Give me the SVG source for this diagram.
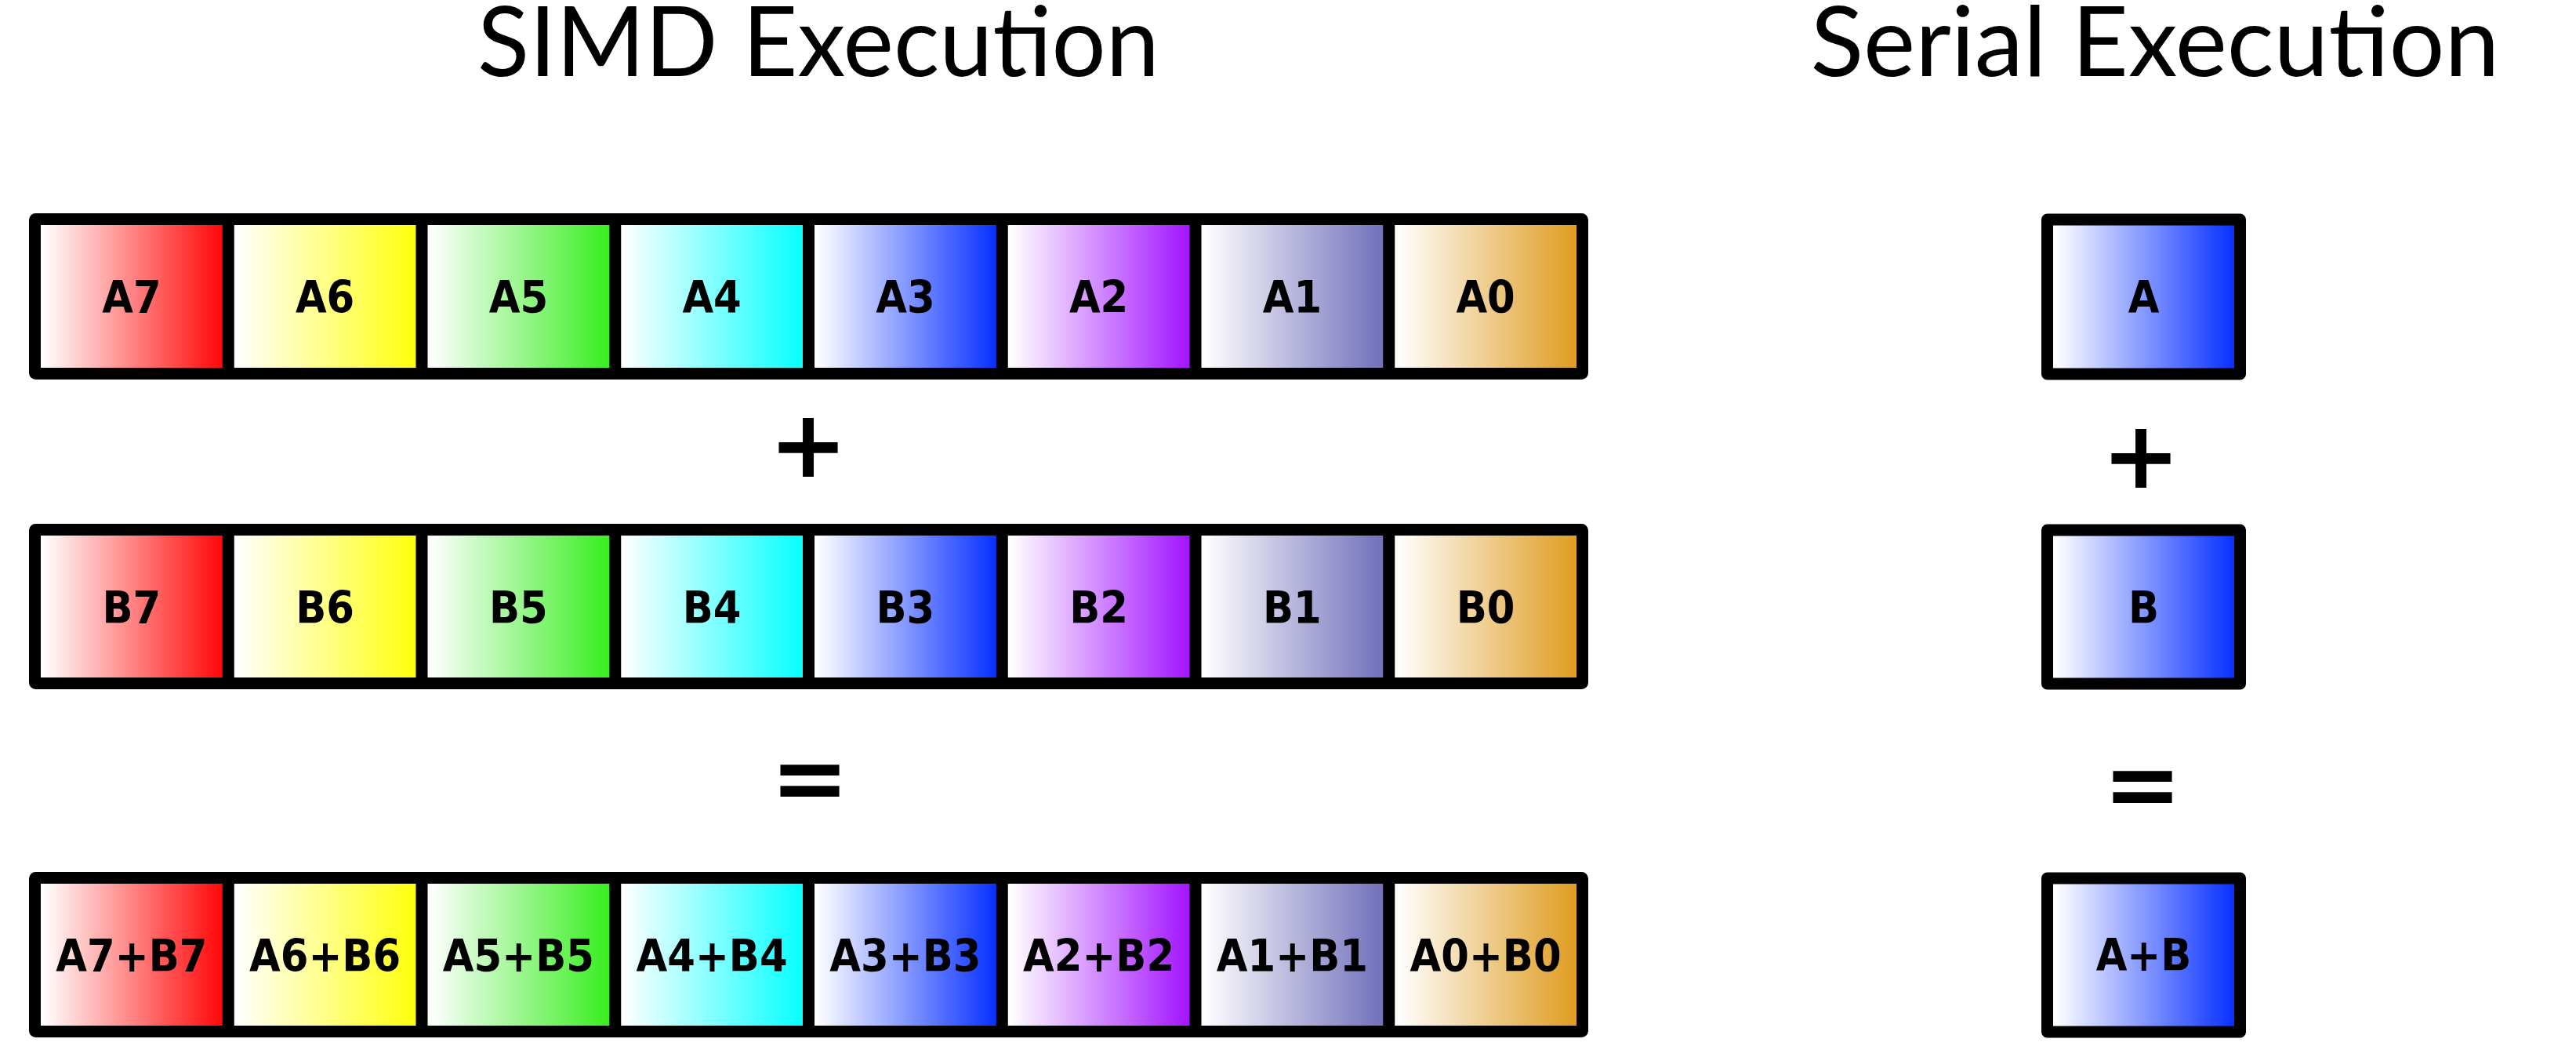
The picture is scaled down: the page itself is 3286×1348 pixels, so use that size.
<svg xmlns="http://www.w3.org/2000/svg" width="3286" height="1348" viewBox="0 0 3286 1348">
<defs>
<linearGradient id="g7" x1="0" y1="0" x2="1" y2="0"><stop offset="0.04" stop-color="#ffffff"/><stop offset="0.96" stop-color="#ff0a0a"/></linearGradient>
<linearGradient id="g6" x1="0" y1="0" x2="1" y2="0"><stop offset="0.04" stop-color="#ffffff"/><stop offset="0.96" stop-color="#ffff10"/></linearGradient>
<linearGradient id="g5" x1="0" y1="0" x2="1" y2="0"><stop offset="0.04" stop-color="#ffffff"/><stop offset="0.96" stop-color="#3aee22"/></linearGradient>
<linearGradient id="g4" x1="0" y1="0" x2="1" y2="0"><stop offset="0.04" stop-color="#ffffff"/><stop offset="0.96" stop-color="#0affff"/></linearGradient>
<linearGradient id="g3" x1="0" y1="0" x2="1" y2="0"><stop offset="0.04" stop-color="#ffffff"/><stop offset="0.96" stop-color="#0a32ff"/></linearGradient>
<linearGradient id="g2" x1="0" y1="0" x2="1" y2="0"><stop offset="0.04" stop-color="#ffffff"/><stop offset="0.96" stop-color="#a416ff"/></linearGradient>
<linearGradient id="g1" x1="0" y1="0" x2="1" y2="0"><stop offset="0.04" stop-color="#ffffff"/><stop offset="0.96" stop-color="#7271bb"/></linearGradient>
<linearGradient id="g0" x1="0" y1="0" x2="1" y2="0"><stop offset="0.04" stop-color="#ffffff"/><stop offset="0.96" stop-color="#df9d22"/></linearGradient>
</defs>
<style>
.title{font-family:Lato,Carlito,"Liberation Sans",sans-serif;font-size:124px;fill:#000;text-anchor:middle}
.lbl{font-family:"DejaVu Sans Condensed","DejaVu Sans",sans-serif;font-stretch:condensed;font-weight:bold;font-size:57px;fill:#000;text-anchor:middle}
.op{font-family:"DejaVu Sans","Liberation Sans",sans-serif;font-weight:bold;font-size:120px;fill:#000;text-anchor:middle}
.frame{fill:none;stroke:#000;stroke-width:15;stroke-linejoin:round}
.div{stroke:#000;stroke-width:15}
</style>
<rect width="3286" height="1348" fill="#fff"/>
<text class="title" x="1044" y="97" textLength="870" lengthAdjust="spacingAndGlyphs">SIMD Execution</text>
<text class="title" x="2749" y="97" textLength="879" lengthAdjust="spacingAndGlyphs">Serial Execution</text>

<g id="rowA">
<g id="A7"><rect x="44.5" y="279.5" width="246.75" height="197" fill="url(#g7)"/><text class="lbl" x="167.9" y="399">A7</text></g>
<g id="A6"><rect x="291.25" y="279.5" width="246.75" height="197" fill="url(#g6)"/><text class="lbl" x="414.6" y="399">A6</text></g>
<g id="A5"><rect x="538" y="279.5" width="246.75" height="197" fill="url(#g5)"/><text class="lbl" x="661.4" y="399">A5</text></g>
<g id="A4"><rect x="784.75" y="279.5" width="246.75" height="197" fill="url(#g4)"/><text class="lbl" x="908.1" y="399">A4</text></g>
<g id="A3"><rect x="1031.5" y="279.5" width="246.75" height="197" fill="url(#g3)"/><text class="lbl" x="1154.9" y="399">A3</text></g>
<g id="A2"><rect x="1278.25" y="279.5" width="246.75" height="197" fill="url(#g2)"/><text class="lbl" x="1401.6" y="399">A2</text></g>
<g id="A1"><rect x="1525" y="279.5" width="246.75" height="197" fill="url(#g1)"/><text class="lbl" x="1648.4" y="399">A1</text></g>
<g id="A0"><rect x="1771.75" y="279.5" width="246.75" height="197" fill="url(#g0)"/><text class="lbl" x="1895.1" y="399">A0</text></g>
<g id="frameA"><rect class="frame" x="44.5" y="279.5" width="1974" height="197" rx="1"/>
<path class="div" d="M291.25 279.5V476.5M538 279.5V476.5M784.75 279.5V476.5M1031.5 279.5V476.5M1278.25 279.5V476.5M1525 279.5V476.5M1771.75 279.5V476.5"/></g>
</g>

<g id="rowB">
<g id="B7"><rect x="44.5" y="675.5" width="246.75" height="196" fill="url(#g7)"/><text class="lbl" x="167.9" y="795">B7</text></g>
<g id="B6"><rect x="291.25" y="675.5" width="246.75" height="196" fill="url(#g6)"/><text class="lbl" x="414.6" y="795">B6</text></g>
<g id="B5"><rect x="538" y="675.5" width="246.75" height="196" fill="url(#g5)"/><text class="lbl" x="661.4" y="795">B5</text></g>
<g id="B4"><rect x="784.75" y="675.5" width="246.75" height="196" fill="url(#g4)"/><text class="lbl" x="908.1" y="795">B4</text></g>
<g id="B3"><rect x="1031.5" y="675.5" width="246.75" height="196" fill="url(#g3)"/><text class="lbl" x="1154.9" y="795">B3</text></g>
<g id="B2"><rect x="1278.25" y="675.5" width="246.75" height="196" fill="url(#g2)"/><text class="lbl" x="1401.6" y="795">B2</text></g>
<g id="B1"><rect x="1525" y="675.5" width="246.75" height="196" fill="url(#g1)"/><text class="lbl" x="1648.4" y="795">B1</text></g>
<g id="B0"><rect x="1771.75" y="675.5" width="246.75" height="196" fill="url(#g0)"/><text class="lbl" x="1895.1" y="795">B0</text></g>
<g id="frameB"><rect class="frame" x="44.5" y="675.5" width="1974" height="196" rx="1"/>
<path class="div" d="M291.25 675.5V871.5M538 675.5V871.5M784.75 675.5V871.5M1031.5 675.5V871.5M1278.25 675.5V871.5M1525 675.5V871.5M1771.75 675.5V871.5"/></g>
</g>

<g id="rowC">
<g id="S7"><rect x="44.5" y="1119.5" width="246.75" height="196" fill="url(#g7)"/><text class="lbl" x="167.9" y="1239">A7+B7</text></g>
<g id="S6"><rect x="291.25" y="1119.5" width="246.75" height="196" fill="url(#g6)"/><text class="lbl" x="414.6" y="1239">A6+B6</text></g>
<g id="S5"><rect x="538" y="1119.5" width="246.75" height="196" fill="url(#g5)"/><text class="lbl" x="661.4" y="1239">A5+B5</text></g>
<g id="S4"><rect x="784.75" y="1119.5" width="246.75" height="196" fill="url(#g4)"/><text class="lbl" x="908.1" y="1239">A4+B4</text></g>
<g id="S3"><rect x="1031.5" y="1119.5" width="246.75" height="196" fill="url(#g3)"/><text class="lbl" x="1154.9" y="1239">A3+B3</text></g>
<g id="S2"><rect x="1278.25" y="1119.5" width="246.75" height="196" fill="url(#g2)"/><text class="lbl" x="1401.6" y="1239">A2+B2</text></g>
<g id="S1"><rect x="1525" y="1119.5" width="246.75" height="196" fill="url(#g1)"/><text class="lbl" x="1648.4" y="1239">A1+B1</text></g>
<g id="S0"><rect x="1771.75" y="1119.5" width="246.75" height="196" fill="url(#g0)"/><text class="lbl" x="1895.1" y="1239">A0+B0</text></g>
<g id="frameC"><rect class="frame" x="44.5" y="1119.5" width="1974" height="196" rx="1"/>
<path class="div" d="M291.25 1119.5V1315.5M538 1119.5V1315.5M784.75 1119.5V1315.5M1031.5 1119.5V1315.5M1278.25 1119.5V1315.5M1525 1119.5V1315.5M1771.75 1119.5V1315.5"/></g>
</g>

<g id="serialA"><rect class="frame" x="2611.5" y="280" width="246" height="197" style="fill:url(#g3)"/><text class="lbl" x="2734.5" y="399">A</text></g>
<g id="serialB"><rect class="frame" x="2611.5" y="676" width="246" height="196" style="fill:url(#g3)"/><text class="lbl" x="2734.5" y="795">B</text></g>
<g id="serialC"><rect class="frame" x="2611.5" y="1120" width="246" height="196" style="fill:url(#g3)"/><text class="lbl" x="2734.5" y="1238">A+B</text></g>

<g id="operators">
<text class="op" x="1031" y="608">+</text>
<text class="op" x="1033" y="1033">=</text>
<text class="op" x="2731" y="622">+</text>
<text class="op" x="2733" y="1041">=</text>
</g>
</svg>
